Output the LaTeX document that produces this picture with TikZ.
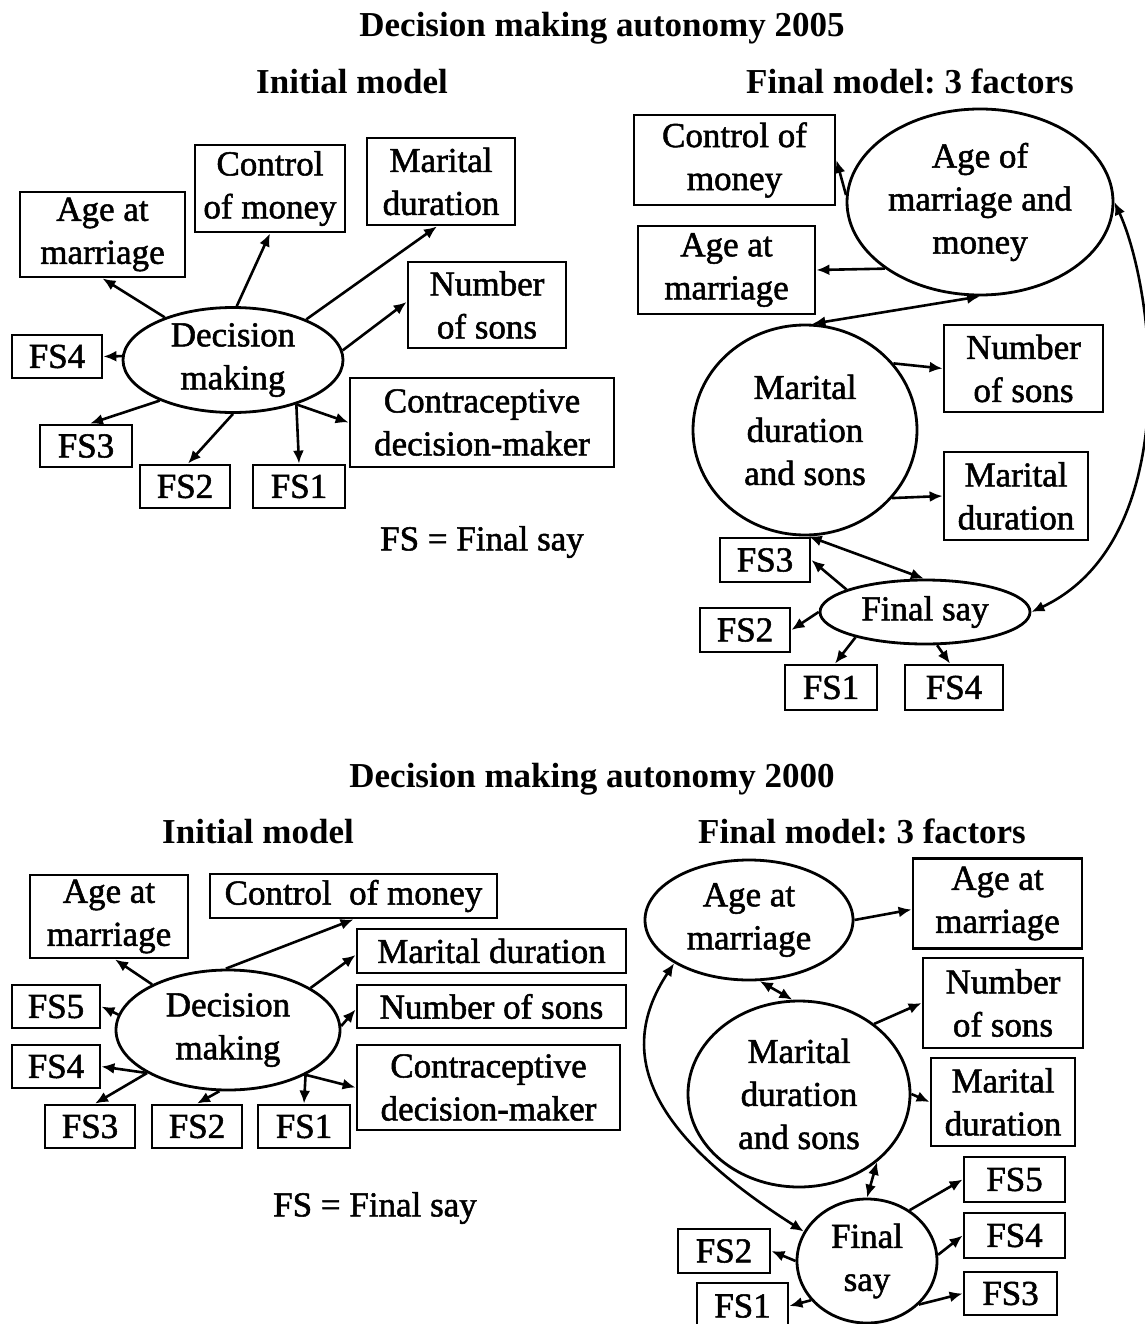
\documentclass[tikz,border=0pt]{standalone}
\usepackage{fontspec}
\setmainfont{Liberation Serif}
\newfontfamily\thicklabel[FakeBold=1.5]{Liberation Serif}
\usetikzlibrary{arrows.meta,shapes.geometric}
\frenchspacing
\newcommand\labelfont{\thicklabel\fontsize{35}{43}\selectfont}
\newcommand\headfont{\fontsize{35}{43}\selectfont\bfseries}
\tikzset{
  box/.style={draw, line width=2.8pt, inner sep=0pt, align=center, font=\labelfont},
  latent/.style={draw, ellipse, line width=2.8pt, inner sep=0pt, align=center, font=\labelfont},
  tip/.tip={Latex[length=13pt,width=11pt]},
  arr/.style={line width=2.6pt, -tip},
  dbl/.style={line width=2.6pt, tip-tip},
  head/.style={anchor=base, inner sep=0pt, font=\headfont},
  note/.style={inner sep=0pt, font=\labelfont}
}
\begin{document}
\begin{tikzpicture}[x=1pt,y=-1pt]
\fill[white] (0,0) rectangle (1144,1324);
\useasboundingbox (0,0) rectangle (1144,1324);

% ---------------- 2005 ----------------
\node[head] (t1) at (602,37) {Decision making autonomy 2005};
\node[head] (t2) at (352,94) {Initial model};
\node[head] (t3) at (910,94) {Final model: 3 factors};

% initial model 2005
\node[latent, minimum width=220pt, minimum height=105pt] (d1) at (233,360) {Decision\\making};
\node[box, minimum width=165pt, minimum height=85pt] (a1) at (102.5,234.5) {Age at\\marriage};
\node[box, minimum width=150pt, minimum height=87pt] (c1) at (270,188.5) {Control\\of money};
\node[box, minimum width=148pt, minimum height=87pt] (m1) at (441,181.5) {Marital\\duration};
\node[box, minimum width=158pt, minimum height=86pt] (n1) at (487,305) {Number\\of sons};
\node[box, minimum width=90pt, minimum height=43pt] (f41) at (57,356.5) {FS4};
\node[box, minimum width=264pt, minimum height=89pt] (k1) at (482,422.5) {Contraceptive\\decision-maker};
\node[box, minimum width=92pt, minimum height=42pt] (f31) at (86,446) {FS3};
\node[box, minimum width=90pt, minimum height=43pt] (f21) at (185,486.5) {FS2};
\node[box, minimum width=92pt, minimum height=43pt] (f11) at (299,486.5) {FS1};
\node[note] (fsnote1) at (482,542) {FS = Final say};

\draw[arr] (d1.148) -- (a1.south);
\draw[arr] (d1.86) -- (c1.south);
\draw[arr] (d1.29) -- ([xshift=-4pt]m1.south);
\draw[arr] (d1.5) -- ([yshift=3pt]n1.west);
\draw[arr] (d1.178) -- (f41.east);
\draw[arr] (d1.209) -- ([xshift=4pt]f31.north);
\draw[arr] (d1.270) -- ([xshift=3pt]f21.north);
\draw[arr] (d1.325) -- (f11.north);
\draw[arr] (d1.325) -- (k1.west);

% final model 2005
\node[latent, minimum width=266pt, minimum height=186pt] (am) at (980,202) {Age of\\marriage and\\money};
\node[box, minimum width=201pt, minimum height=90pt] (c2) at (734.5,160) {Control of\\money};
\node[box, minimum width=177pt, minimum height=88pt] (a2) at (726.5,270) {Age at\\marriage};
\node[latent, minimum width=224pt, minimum height=210pt] (md) at (805,430) {Marital\\duration\\and sons};
\node[box, minimum width=159pt, minimum height=87pt] (n2) at (1023.5,368.5) {Number\\of sons};
\node[box, minimum width=144pt, minimum height=88pt] (m2) at (1016,496) {Marital\\duration};
\node[latent, minimum width=210pt, minimum height=64pt] (fs) at (925,612) {Final say};
\node[box, minimum width=90pt, minimum height=44pt] (f32) at (765,560) {FS3};
\node[box, minimum width=90pt, minimum height=44pt] (f22) at (745,630) {FS2};
\node[box, minimum width=92pt, minimum height=45pt] (f12) at (831,687.5) {FS1};
\node[box, minimum width=98pt, minimum height=45pt] (f42) at (954,687.5) {FS4};

\draw[arr] (am.177) -- (c2.east);
\draw[arr] (am.215) -- (a2.east);
\draw[dbl] (am.270) -- (md.86);
\draw[arr] (md.37) -- (n2.west);
\draw[arr] (md.322) -- (m2.west);
\draw[dbl] (md.272) -- (fs.92);
\draw[arr] (fs.164) -- (f32.east);
\draw[arr] (fs.180) -- (f22.east);
\draw[arr] (fs.200) -- ([xshift=4pt]f12.north);
\draw[arr] (fs.290) -- ([xshift=-4pt]f42.north);
\draw[dbl] (am.east) .. controls (1155,290) and (1185,540) .. (fs.east);

% ---------------- 2000 ----------------
\node[head] (t4) at (592,787) {Decision making autonomy 2000};
\node[head] (t5) at (258,843) {Initial model};
\node[head] (t6) at (862,843) {Final model: 3 factors};

% initial model 2000
\node[latent, minimum width=224pt, minimum height=120pt] (d3) at (228,1030) {Decision\\making};
\node[box, minimum width=158pt, minimum height=83pt] (a3) at (109,916.5) {Age at\\marriage};
\node[box, minimum width=287pt, minimum height=44pt] (c3) at (353.5,896) {Control~~of money};
\node[box, minimum width=269pt, minimum height=44pt] (m3) at (491.5,951) {Marital duration};
\node[box, minimum width=269pt, minimum height=43pt] (n3) at (491.5,1006.5) {Number of sons};
\node[box, minimum width=88pt, minimum height=43pt] (f53) at (56,1006.5) {FS5};
\node[box, minimum width=88pt, minimum height=43pt] (f43) at (56,1066.5) {FS4};
\node[box, minimum width=263pt, minimum height=85pt] (k3) at (488.5,1087.5) {Contraceptive\\decision-maker};
\node[box, minimum width=90pt, minimum height=43pt] (f33) at (90,1126.5) {FS3};
\node[box, minimum width=90pt, minimum height=43pt] (f23) at (197,1126.5) {FS2};
\node[box, minimum width=92pt, minimum height=43pt] (f13) at (304,1126.5) {FS1};
\node[note] (fsnote2) at (375,1208) {FS = Final say};

\draw[arr] (d3.149) -- ([xshift=6pt]a3.south);
\draw[arr] (d3.92) -- (c3.south);
\draw[arr] (d3.27) -- ([yshift=-4pt]m3.west);
\draw[arr] (d3.2) -- ([yshift=-3pt]n3.west);
\draw[arr] (d3.172) -- (f53.east);
\draw[arr] (d3.208) -- (f43.east);
\draw[arr] (d3.208) -- ([xshift=5pt]f33.north);
\draw[arr] (d3.262) -- (f23.north);
\draw[arr] (d3.330) -- (f13.north);
\draw[arr] (d3.330) -- (k3.west);

% final model 2000
\node[latent, minimum width=208pt, minimum height=120pt] (am3) at (749,920) {Age at\\marriage};
\node[box, minimum width=169pt, minimum height=90pt] (a4) at (997.5,903.5) {Age at\\marriage};
\node[box, minimum width=160pt, minimum height=90pt] (n4) at (1003,1003) {Number\\of sons};
\node[latent, minimum width=222pt, minimum height=186pt] (md3) at (799,1094) {Marital\\duration\\and sons};
\node[box, minimum width=144pt, minimum height=88pt] (m4) at (1003,1102) {Marital\\duration};
\node[latent, minimum width=140pt, minimum height=124pt] (fs3) at (867,1261) {Final\\say};
\node[box, minimum width=101pt, minimum height=45pt] (f54) at (1014.5,1179.5) {FS5};
\node[box, minimum width=101pt, minimum height=45pt] (f44) at (1014.5,1235.5) {FS4};
\node[box, minimum width=93pt, minimum height=43pt] (f34) at (1010.5,1293.5) {FS3};
\node[box, minimum width=92pt, minimum height=44pt] (f24) at (724,1251) {FS2};
\node[box, minimum width=91pt, minimum height=46pt] (f14) at (742.5,1306) {FS1};

\draw[arr] (am3.east) -- ([yshift=-6pt]a4.west);
\draw[dbl] (am3.280) -- (md3.94);
\draw[arr] (md3.43) -- (n4.west);
\draw[arr] (md3.0) -- (m4.west);
\draw[dbl] (md3.319) -- (fs3.90);
\draw[arr] (fs3.50) -- (f54.west);
\draw[arr] (fs3.5) -- (f44.west);
\draw[arr] (fs3.320) -- (f34.west);
\draw[arr] (fs3.180) -- (f24.east);
\draw[arr] (fs3.215) -- (f14.east);
\draw[dbl] (fs3.155) .. controls (660,1140) and (610,1060) .. (am3.210);
\end{tikzpicture}
\end{document}
